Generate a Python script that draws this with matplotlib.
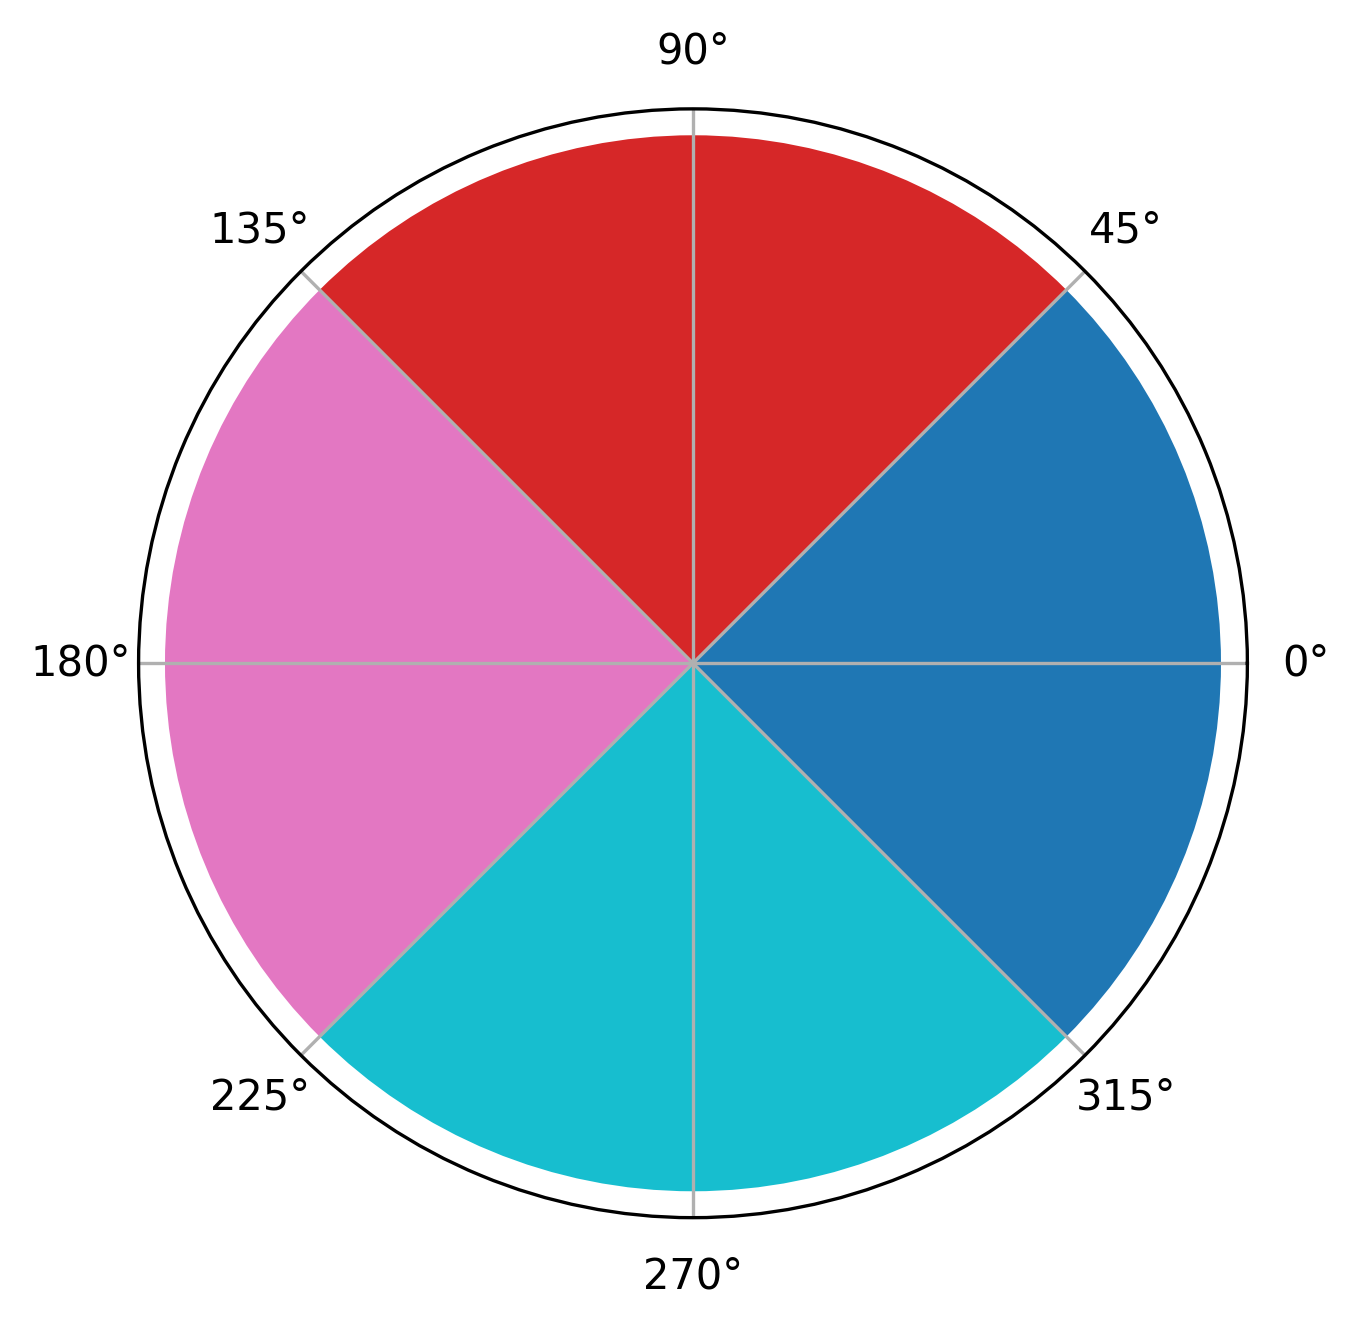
import numpy as np
import matplotlib
matplotlib.use("Agg")
import matplotlib.pyplot as plt

# four quadrant sectors
angles_deg = [0, 90, 180, 270]
radii = [1, 1, 1, 1]
bar_colors = ["tab:blue", "tab:red", "tab:pink", "tab:cyan"]

fig = plt.figure(figsize=(6.4, 4.8), dpi=300)
ax = fig.add_subplot(projection="polar")
ax.bar(
    np.deg2rad(angles_deg),
    radii,
    width=np.pi / 2,
    color=bar_colors,
)
ax.set_ylim(0, 1.05)
ax.set_yticks([])

fig.savefig("out.png", dpi=300, bbox_inches="tight")
